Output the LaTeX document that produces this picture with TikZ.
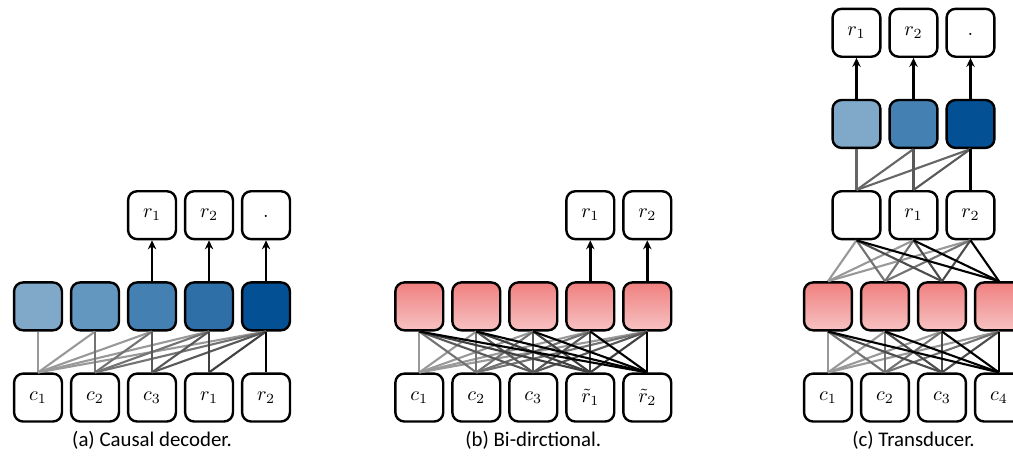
\documentclass[tikz,border=0pt]{standalone}
\usepackage{fontspec}
\setmainfont{Carlito}
\usetikzlibrary{arrows.meta}
\definecolor{bluea}{HTML}{80A9C9}
\definecolor{blueb}{HTML}{6497C0}
\definecolor{bluec}{HTML}{4580B2}
\definecolor{blued}{HTML}{2F6FA8}
\definecolor{bluee}{HTML}{045095}
\definecolor{redtop}{HTML}{F08080}
\definecolor{redbot}{HTML}{F7C2C2}
\begin{document}
\begin{tikzpicture}[line join=round, >={Stealth[length=4.5pt, width=4.2pt]},
	tok/.style={draw, line width=1.2pt, rounded corners=4.5pt, minimum width=0.84cm, minimum height=0.84cm, inner sep=0pt, fill=white},
	hid/.style={tok, fill=#1},
	enc/.style={tok, top color=redtop, bottom color=redbot},
	link/.style={line width=1.05pt, draw=#1},
	outarrow/.style={->, line width=1.2pt},
	caption/.style={font=\fontsize{10.4}{12}\selectfont}]
	\useasboundingbox (0,0) rectangle (17.772,8.035);
	% (a) causal decoder
	\foreach \lab [count=\i] in {c_1,c_2,c_3,r_1,r_2}
		\node[tok] (ca\i) at ({0.667+\i-1},1.06) {$\lab$};
	\foreach \col [count=\i] in {bluea,blueb,bluec,blued,bluee}
		\node[hid=\col] (ha\i) at ({0.667+\i-1},2.66) {};
	\foreach \lab [count=\i from 3] in {r_1,r_2,\vphantom{r_1}.}
		\node[tok] (oa\i) at ({0.667+\i-1},4.26) {$\lab$};
	\foreach \j/\shade in {1/40,2/55,3/65,4/75,5/100}
		\foreach \i in {\j,...,5}
			\draw[link=black!\shade] (ca\j.north) -- (ha\i.south);
	\foreach \i in {3,4,5}
		\draw[outarrow] (ha\i) -- (oa\i);
	\node[caption] (capa) at (2.667,0.316) {(a) Causal decoder.};
	% (b) bi-directional
	\foreach \lab [count=\i] in {c_1,c_2,c_3,\tilde{r}_1,\tilde{r}_2}
		\node[tok] (cb\i) at ({7.356+\i-1},1.06) {$\lab$};
	\foreach \i in {1,...,5}
		\node[enc] (hb\i) at ({7.356+\i-1},2.66) {};
	\foreach \lab [count=\i from 4] in {r_1,r_2}
		\node[tok] (ob\i) at ({7.356+\i-1},4.26) {$\lab$};
	\foreach \j/\shade in {1/40,2/55,3/65,4/75,5/100}
		\foreach \i in {1,...,5}
			\draw[link=black!\shade] (cb\j.north) -- (hb\i.south);
	\foreach \i in {4,5}
		\draw[outarrow] (hb\i) -- (ob\i);
	\node[caption] (capb) at (9.356,0.316) {(b) Bi-dirctional.};
	% (c) transducer
	\foreach \lab [count=\i] in {c_1,c_2,c_3,c_4}
		\node[tok] (cc\i) at ({14.526+\i-1},1.06) {$\lab$};
	\foreach \i in {1,...,4}
		\node[enc] (ec\i) at ({14.526+\i-1},2.66) {};
	\foreach \lab [count=\i] in {{},r_1,r_2}
		\node[tok] (pc\i) at ({15.026+\i-1},4.26) {$\lab$};
	\foreach \col [count=\i] in {bluea,bluec,bluee}
		\node[hid=\col] (hc\i) at ({15.026+\i-1},5.86) {};
	\foreach \lab [count=\i] in {r_1,r_2,\vphantom{r_1}.}
		\node[tok] (oc\i) at ({15.026+\i-1},7.46) {$\lab$};
	\foreach \j/\shade in {1/40,2/55,3/70,4/100}
		\foreach \i in {1,...,4}
			\draw[link=black!\shade] (cc\j.north) -- (ec\i.south);
	\foreach \j/\shade in {1/40,2/55,3/70,4/100}
		\foreach \i in {1,2,3}
			\draw[link=black!\shade] (ec\j.north) -- (pc\i.south);
	\foreach \j/\shade in {1/60,2/65,3/100}
		\foreach \i in {\j,...,3}
			\draw[link=black!\shade] (pc\j.north) -- (hc\i.south);
	\foreach \i in {1,2,3}
		\draw[outarrow] (hc\i) -- (oc\i);
	\node[caption] (capc) at (16.026,0.316) {(c) Transducer.};
\end{tikzpicture}
\end{document}
